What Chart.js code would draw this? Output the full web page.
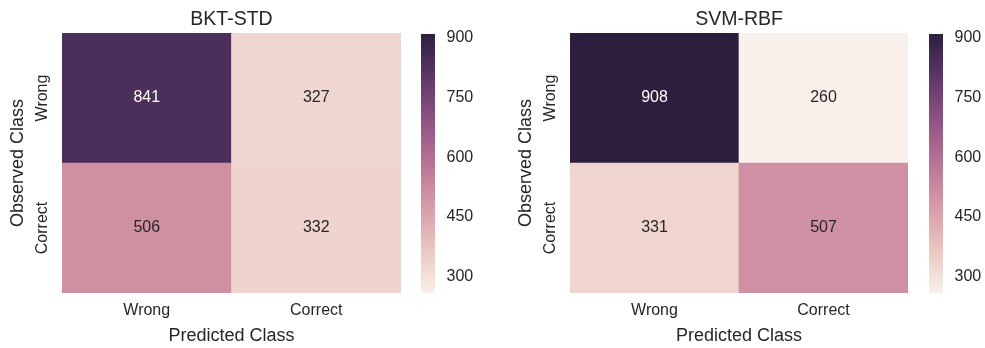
<!DOCTYPE html>
<html>
<head>
<meta charset="utf-8">
<script src="https://cdn.jsdelivr.net/npm/chart.js@4.4.1/dist/chart.umd.min.js"></script>
<style>
  html, body { margin: 0; padding: 0; background: #fff; }
  #wrap { position: relative; width: 985px; height: 348px; overflow: hidden; }
  #wrap canvas { position: absolute; top: 0; }
</style>
</head>
<body>
<div id="wrap">
  <canvas id="hm-bkt" width="463" height="348" style="left:0px"></canvas>
  <canvas id="cb-bkt" width="70" height="348" style="left:415px"></canvas>
  <canvas id="hm-svm" width="462" height="348" style="left:508px"></canvas>
  <canvas id="cb-svm" width="62" height="348" style="left:923px"></canvas>
</div>
<script>
// Confusion matrices: rows = observed class, columns = predicted class
const classes = ['Wrong', 'Correct'];
const bktValues = [[841, 327], [506, 332]];
const svmValues = [[908, 260], [331, 507]];
const cbTicks = [300, 450, 600, 750, 900];
const vmin = 260, vmax = 908;

const FONT = '"Liberation Sans", Arial, sans-serif';
const INK = '#262626';

// seaborn's default heatmap cmap: cubehelix_palette(light=.95, as_cmap=True)
function cubehelix(x) {
  const start = 0, rot = 0.4, gamma = 1, hue = 0.8;
  const xg = Math.pow(x, gamma);
  const a = hue * xg * (1 - xg) / 2;
  const phi = 2 * Math.PI * (start / 3 + rot * x);
  const c = Math.cos(phi), s = Math.sin(phi);
  const clip = v => Math.min(1, Math.max(0, v));
  return [
    clip(xg + a * (-0.14861 * c + 1.78277 * s)),
    clip(xg + a * (-0.29227 * c - 0.90649 * s)),
    clip(xg + a * (1.97294 * c)),
  ];
}
function rgbOf(v) {
  const t = Math.min(1, Math.max(0, (v - vmin) / (vmax - vmin)));
  return cubehelix(0.95 + (0.15 - 0.95) * t);
}
const css = rgb => `rgb(${rgb.map(c => Math.round(c * 255)).join(',')})`;
// old seaborn rule: HLS lightness > .5 -> dark text
function textColor(v) {
  const rgb = rgbOf(v);
  const l = (Math.max(...rgb) + Math.min(...rgb)) / 2;
  return l > 0.5 ? INK : '#ffffff';
}

const annotate = {
  id: 'annotate',
  afterDatasetsDraw(chart) {
    const ctx = chart.ctx;
    ctx.save();
    ctx.font = `16px ${FONT}`;
    ctx.textAlign = 'center';
    ctx.textBaseline = 'middle';
    chart.data.datasets.forEach((ds, i) => {
      chart.getDatasetMeta(i).data.forEach((bar, j) => {
        const v = ds.cellValues[j];
        const p = bar.getCenterPoint();
        ctx.fillStyle = textColor(v);
        ctx.fillText(String(v), p.x, p.y);
      });
    });
    ctx.restore();
  }
};

function makeHeatmap(id, title, values) {
  // bottom row first so the stack puts 'Wrong' on top
  const datasets = values.map((row, r) => ({
    label: classes[r],
    data: row.map(() => 1),
    cellValues: row,
    backgroundColor: row.map(v => css(rgbOf(v))),
    borderWidth: 0,
    barPercentage: 1,
    categoryPercentage: 1,
  })).reverse();

  new Chart(document.getElementById(id), {
    type: 'bar',
    data: { labels: classes, datasets },
    plugins: [annotate],
    options: {
      responsive: false,
      animation: false,
      layout: { padding: 0 },
      plugins: {
        legend: { display: false },
        tooltip: { enabled: false },
        title: {
          display: true, text: title, color: INK,
          font: { family: FONT, size: 19.5, weight: 'normal' },
          padding: { top: 7.5, bottom: 2.1 }
        }
      },
      scales: {
        x: {
          stacked: true,
          grid: { display: false, drawTicks: false },
          border: { display: false },
          ticks: { color: INK, font: { family: FONT, size: 16 }, padding: 8.4 },
          title: {
            display: true, text: 'Predicted Class', color: INK,
            font: { family: FONT, size: 18 }, padding: { top: 0, bottom: 1.2 }
          },
          afterFit: s => { s.height = 55; }
        },
        y: {
          stacked: true, min: 0, max: 2,
          grid: { display: false, drawTicks: false },
          border: { display: false },
          afterBuildTicks: s => { s.ticks = [{ value: 0.5 }, { value: 1.5 }]; },
          ticks: {
            color: INK, font: { family: FONT, size: 16 },
            minRotation: 90, maxRotation: 90, crossAlign: 'center', padding: -7,
            callback: v => classes[classes.length - 1 - Math.floor(v)]
          },
          title: {
            display: true, text: 'Observed Class', color: INK,
            font: { family: FONT, size: 18 }, padding: { top: 7.5, bottom: 0 }
          },
          afterFit: s => { s.width = 62; }
        },
        // empty right-hand gutter where the colorbar sits, keeps title centred on the cells
        gutter: {
          type: 'linear', position: 'right',
          grid: { display: false, drawTicks: false },
          border: { display: false },
          ticks: { display: false },
          afterFit: s => { s.width = 62; }
        }
      }
    }
  });
}

function makeColorbar(id, axisWidth) {
  const stops = 64;
  new Chart(document.getElementById(id), {
    type: 'bar',
    data: {
      labels: [''],
      datasets: [{
        data: [[vmin, vmax]],
        borderWidth: 0,
        barPercentage: 1,
        categoryPercentage: 1,
        backgroundColor: (ctx) => {
          const area = ctx.chart.chartArea;
          if (!area) return css(rgbOf(vmin));
          const yS = ctx.chart.scales.y;
          const g = ctx.chart.ctx.createLinearGradient(0, yS.getPixelForValue(vmin), 0, yS.getPixelForValue(vmax));
          for (let i = 0; i <= stops; i++) {
            g.addColorStop(i / stops, css(rgbOf(vmin + (vmax - vmin) * i / stops)));
          }
          return g;
        }
      }]
    },
    options: {
      responsive: false,
      animation: false,
      layout: { padding: { left: 6, right: 0, top: 34, bottom: 55 } },
      plugins: { legend: { display: false }, tooltip: { enabled: false } },
      scales: {
        x: { display: false },
        y: {
          position: 'right', min: vmin, max: vmax,
          grid: { display: false, drawTicks: false },
          border: { display: false },
          afterBuildTicks: s => { s.ticks = cbTicks.map(v => ({ value: v })); },
          ticks: { color: INK, font: { family: FONT, size: 16 }, padding: 11.5 },
          afterFit: s => { s.width = axisWidth; }
        }
      }
    }
  });
}

makeHeatmap('hm-bkt', 'BKT-STD', bktValues);
makeHeatmap('hm-svm', 'SVM-RBF', svmValues);
makeColorbar('cb-bkt', 50);
makeColorbar('cb-svm', 42);
</script>
</body>
</html>
